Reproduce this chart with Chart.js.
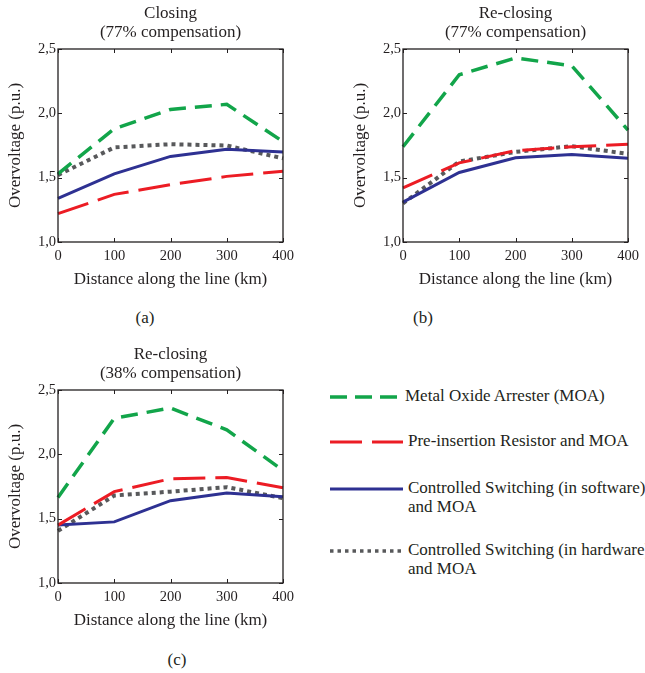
<!DOCTYPE html>
<html>
<head>
<meta charset="utf-8">
<script src="https://cdn.jsdelivr.net/npm/chart.js@4.4.0/dist/chart.umd.min.js"></script>
<style>
  body { margin: 0; background: #fff; width: 645px; height: 673px; overflow: hidden; position: relative;
         font-family: "Liberation Serif", serif; color: #231f20; }
  canvas { position: absolute; }
  .lbl { position: absolute; font-size: 17px; transform: translate(-50%, -50%); }
  .leg { position: absolute; left: 330px; white-space: nowrap; }
  .leg svg { position: absolute; left: 0; }
  .leg span { position: absolute; font-size: 17px; line-height: 19px; }
</style>
</head>
<body>
<canvas id="chartA" width="300" height="295" style="left:0;top:0"></canvas>
<canvas id="chartB" width="300" height="295" style="left:345px;top:0"></canvas>
<canvas id="chartC" width="300" height="295" style="left:0;top:341px"></canvas>

<div class="lbl" style="left:145px;top:318px">(a)</div>
<div class="lbl" style="left:423px;top:318px">(b)</div>
<div class="lbl" style="left:177px;top:660px">(c)</div>

<div class="leg" style="top:397px">
  <svg width="75" height="6" style="top:-3px"><line x1="0" y1="3" x2="67" y2="3" stroke="#12a54a" stroke-width="3.5" stroke-dasharray="17 8"/></svg>
  <span style="left:75px;top:-11px">Metal Oxide Arrester (MOA)</span>
</div>
<div class="leg" style="top:442px">
  <svg width="75" height="6" style="top:-3px"><line x1="0" y1="3" x2="73" y2="3" stroke="#ec1c24" stroke-width="3" stroke-dasharray="32 10"/></svg>
  <span style="left:78px;top:-11px">Pre-insertion Resistor and MOA</span>
</div>
<div class="leg" style="top:489px">
  <svg width="75" height="6" style="top:-3px"><line x1="0" y1="3" x2="73" y2="3" stroke="#2e3192" stroke-width="3"/></svg>
  <span style="left:78px;top:-11px">Controlled Switching (in software)<br>and MOA</span>
</div>
<div class="leg" style="top:551px">
  <svg width="75" height="6" style="top:-3px"><line x1="0" y1="3" x2="73" y2="3" stroke="#58595b" stroke-width="3.5" stroke-dasharray="3.5 4"/></svg>
  <span style="left:78px;top:-11px">Controlled Switching (in hardware)<br>and MOA</span>
</div>

<script>
// x positions along the line (km)
var distances = [0, 100, 200, 300, 400];

// (a) Closing, 77% compensation
var closingMOA  = [1.53, 1.88, 2.03, 2.07, 1.78];
var closingPIR  = [1.22, 1.37, 1.445, 1.51, 1.55];
var closingSoft = [1.34, 1.53, 1.665, 1.72, 1.70];
var closingHard = [1.52, 1.735, 1.76, 1.75, 1.65];

// (b) Re-closing, 77% compensation
var reclose77MOA  = [1.74, 2.30, 2.43, 2.37, 1.87];
var reclose77PIR  = [1.42, 1.615, 1.71, 1.74, 1.76];
var reclose77Soft = [1.31, 1.54, 1.655, 1.68, 1.65];
var reclose77Hard = [1.30, 1.625, 1.70, 1.745, 1.685];

// (c) Re-closing, 38% compensation
var reclose38MOA  = [1.665, 2.28, 2.36, 2.19, 1.875];
var reclose38PIR  = [1.45, 1.71, 1.81, 1.82, 1.74];
var reclose38Soft = [1.45, 1.475, 1.64, 1.70, 1.67];
var reclose38Hard = [1.405, 1.68, 1.71, 1.745, 1.66];

var seriesLabels = ['Metal Oxide Arrester (MOA)', 'Pre-insertion Resistor and MOA',
                    'Controlled Switching (in software) and MOA', 'Controlled Switching (in hardware) and MOA'];

var textColor = '#231f20';
var serif = 'Liberation Serif';

function pts(arr) {
    return arr.map(function (v, i) { return { x: distances[i], y: v }; });
}

// box round the plot with small inward ticks (matlab look)
var framePlugin = {
    id: 'frame',
    afterDraw: function (chart) {
        var ctx = chart.ctx, a = chart.chartArea;
        var xs = chart.scales.x, ys = chart.scales.y;
        ctx.save();
        ctx.strokeStyle = textColor;
        ctx.lineWidth = 1.3;
        ctx.strokeRect(a.left, a.top, a.right - a.left, a.bottom - a.top);
        ctx.lineWidth = 1;
        ctx.beginPath();
        xs.ticks.forEach(function (t) {
            var px = Math.round(xs.getPixelForValue(t.value)) + 0.5;
            ctx.moveTo(px, a.bottom); ctx.lineTo(px, a.bottom - 4);
            ctx.moveTo(px, a.top); ctx.lineTo(px, a.top + 4);
        });
        ys.ticks.forEach(function (t) {
            var py = Math.round(ys.getPixelForValue(t.value)) + 0.5;
            ctx.moveTo(a.left, py); ctx.lineTo(a.left + 4, py);
            ctx.moveTo(a.right, py); ctx.lineTo(a.right - 4, py);
        });
        ctx.stroke();
        ctx.restore();
    }
};

function makeChart(id, titleLines, moa, pir, soft, hard) {
    var ctx = document.getElementById(id).getContext('2d');
    return new Chart(ctx, {
        type: 'line',
        data: {
            datasets: [{
                label: seriesLabels[0],
                data: pts(moa),
                borderColor: '#12a54a',
                borderWidth: 3.5,
                borderDash: [17, 9]
            }, {
                label: seriesLabels[1],
                data: pts(pir),
                borderColor: '#ec1c24',
                borderWidth: 3,
                borderDash: [32, 10]
            }, {
                label: seriesLabels[2],
                data: pts(soft),
                borderColor: '#2e3192',
                borderWidth: 3
            }, {
                label: seriesLabels[3],
                data: pts(hard),
                borderColor: '#58595b',
                borderWidth: 4,
                borderDash: [4, 4]
            }]
        },
        options: {
            responsive: false,
            animation: false,
            clip: false,
            elements: { point: { radius: 0 }, line: { tension: 0, fill: false, borderCapStyle: 'butt' } },
            layout: { padding: { left: 0, right: 17, top: 0, bottom: 0 } },
            plugins: {
                legend: { display: false },
                tooltip: { enabled: false },
                title: {
                    display: true,
                    text: titleLines,
                    fullSize: false,
                    color: textColor,
                    font: { family: serif, size: 17, weight: 'normal', lineHeight: 1.1 },
                    padding: { top: 4, bottom: 7.6 }
                }
            },
            scales: {
                x: {
                    type: 'linear',
                    min: 0, max: 400,
                    ticks: { stepSize: 100, padding: 5, color: textColor, font: { family: serif, size: 14.5 } },
                    grid: { display: false, drawTicks: false },
                    border: { display: false },
                    title: { display: true, text: 'Distance along the line (km)', color: textColor,
                             font: { family: serif, size: 17 }, padding: { top: 0, bottom: 5 } },
                    afterFit: function (s) { s.height = 53; }
                },
                y: {
                    min: 1, max: 2.5,
                    ticks: { stepSize: 0.5, padding: 2, color: textColor, font: { family: serif, size: 14.5 },
                             callback: function (v) { return v.toFixed(1).replace('.', ','); } },
                    grid: { display: false, drawTicks: false },
                    border: { display: false },
                    title: { display: true, text: 'Overvoltage (p.u.)', color: textColor,
                             font: { family: serif, size: 17 }, padding: { top: 5, bottom: 0 } },
                    afterFit: function (s) { s.width = 58; }
                }
            }
        },
        plugins: [framePlugin]
    });
}

makeChart('chartA', ['Closing', '(77% compensation)'], closingMOA, closingPIR, closingSoft, closingHard);
makeChart('chartB', ['Re-closing', '(77% compensation)'], reclose77MOA, reclose77PIR, reclose77Soft, reclose77Hard);
makeChart('chartC', ['Re-closing', '(38% compensation)'], reclose38MOA, reclose38PIR, reclose38Soft, reclose38Hard);
</script>
</body>
</html>
